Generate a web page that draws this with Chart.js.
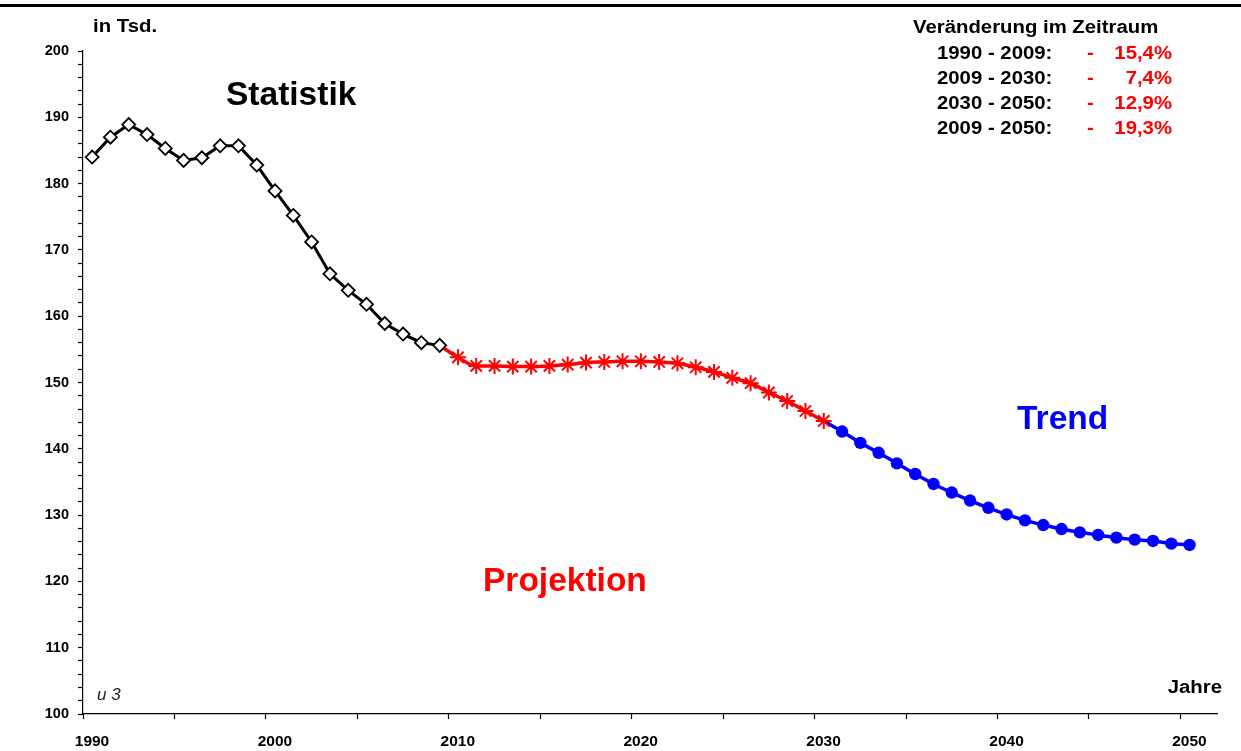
<!DOCTYPE html>
<html>
<head>
<meta charset="utf-8">
<script src="https://cdn.jsdelivr.net/npm/chart.js@4.4.1/dist/chart.umd.min.js"></script>
<style>
  html, body { margin: 0; padding: 0; background: #fff; }
  #wrap { position: relative; width: 1241px; height: 751px; }
  canvas { display: block; }
</style>
</head>
<body>
<div id="wrap"><canvas id="c" width="1241" height="751"></canvas></div>
<script>
// ---- Data ----
const statYears  = [1990,1991,1992,1993,1994,1995,1996,1997,1998,1999,2000,2001,2002,2003,2004,2005,2006,2007,2008,2009];
const statValues = [184.0,187.0,188.9,187.4,185.3,183.5,183.9,185.7,185.7,182.8,178.9,175.2,171.2,166.4,163.9,161.8,158.9,157.3,156.0,155.6];

const projYears  = [2010,2011,2012,2013,2014,2015,2016,2017,2018,2019,2020,2021,2022,2023,2024,2025,2026,2027,2028,2029,2030];
const projValues = [153.8,152.5,152.5,152.4,152.4,152.5,152.7,153.0,153.1,153.2,153.2,153.1,152.9,152.3,151.6,150.7,149.9,148.5,147.2,145.7,144.2];

const trendYears  = [2031,2032,2033,2034,2035,2036,2037,2038,2039,2040,2041,2042,2043,2044,2045,2046,2047,2048,2049,2050];
const trendValues = [142.6,140.9,139.4,137.8,136.2,134.7,133.4,132.2,131.1,130.1,129.2,128.5,127.9,127.4,127.0,126.6,126.3,126.1,125.7,125.5];

const xTickMarks  = [1990,1995,2000,2005,2010,2015,2020,2025,2030,2035,2040,2045,2050];
const xTickLabels = [1990,2000,2010,2020,2030,2040,2050];
const yTickLabels = [100,110,120,130,140,150,160,170,180,190,200];

const changeTitle   = 'Veränderung im Zeitraum';
const changePeriods = ['1990 - 2009:','2009 - 2030:','2030 - 2050:','2009 - 2050:'];
const changeSigns   = ['-','-','-','-'];
const changeValues  = ['15,4%','7,4%','12,9%','19,3%'];

// ---- Build datasets ----
const toPts = (xs, ys) => xs.map((x, i) => ({ x: x, y: ys[i] }));
const lastStat = { x: statYears[statYears.length - 1], y: statValues[statValues.length - 1] };
const lastProj = { x: projYears[projYears.length - 1], y: projValues[projValues.length - 1] };

const statData  = toPts(statYears, statValues);
const projData  = [lastStat].concat(toPts(projYears, projValues));
const trendData = [lastProj].concat(toPts(trendYears, trendValues));

const FONT = "'Liberation Sans', Arial, sans-serif";
const SX = 1.13; // horizontal stretch of the small labels

function wideText(ctx, txt, x, y, align) {
  const w = ctx.measureText(txt).width * SX;
  let left = x;
  if (align === 'right') left = x - w;
  else if (align === 'center') left = x - w / 2;
  ctx.save();
  ctx.translate(left, y);
  ctx.scale(SX, 1);
  ctx.textAlign = 'left';
  ctx.fillText(txt, 0, 0);
  ctx.restore();
}

const textPlugin = {
  id: 'texts',
  afterDraw(chart) {
    const ctx = chart.ctx;
    ctx.save();
    // top rule
    ctx.fillStyle = '#000';
    ctx.fillRect(0, 4, 1241, 3);

    ctx.textBaseline = 'middle';
    ctx.fillStyle = '#000';
    ctx.font = 'bold 18px ' + FONT;
    wideText(ctx, 'in Tsd.', 93, 27, 'left');
    wideText(ctx, 'Jahre', 1222, 688, 'right');

    ctx.textAlign = 'left';
    ctx.font = 'bold 33.5px ' + FONT;
    ctx.fillStyle = '#000';
    ctx.fillText('Statistik', 226, 96);
    ctx.fillStyle = '#FF0000';
    ctx.fillText('Projektion', 483, 582);
    ctx.fillStyle = '#0000FF';
    ctx.fillText('Trend', 1017, 420);

    ctx.font = 'italic 17px ' + FONT;
    ctx.fillStyle = '#222';
    ctx.fillText('u 3', 97, 695);

    // change box
    ctx.font = 'bold 18px ' + FONT;
    ctx.fillStyle = '#000';
    wideText(ctx, changeTitle, 913, 28, 'left');
    for (let i = 0; i < changePeriods.length; i++) {
      const y = 54 + i * 25;
      ctx.fillStyle = '#000';
      wideText(ctx, changePeriods[i], 937, y, 'left');
      ctx.fillStyle = '#FF0000';
      wideText(ctx, changeSigns[i], 1087, y, 'left');
      wideText(ctx, changeValues[i], 1172, y, 'right');
    }
    ctx.restore();
  }
};

new Chart(document.getElementById('c'), {
  type: 'line',
  data: {
    datasets: [
      {
        label: 'Statistik',
        data: statData,
        borderColor: '#000',
        borderWidth: 3,
        tension: 0,
        pointStyle: 'rectRot',
        pointRadius: 6.5,
        pointBackgroundColor: '#fff',
        pointBorderColor: '#000',
        pointBorderWidth: 1.8,
        xAxisID: 'x'
      },
      {
        label: 'Projektion',
        data: projData,
        borderColor: '#FF0000',
        borderWidth: 3.5,
        cubicInterpolationMode: 'monotone',
        pointStyle: 'star',
        pointRadius: ctx => ctx.dataIndex === 0 ? 0 : 8,
        pointBorderColor: '#FF0000',
        pointBackgroundColor: '#FF0000',
        pointBorderWidth: 2,
        xAxisID: 'x'
      },
      {
        label: 'Trend',
        data: trendData,
        borderColor: '#0000FF',
        borderWidth: 3.5,
        cubicInterpolationMode: 'monotone',
        pointStyle: 'circle',
        pointRadius: ctx => ctx.dataIndex === 0 ? 0 : 6.2,
        pointBorderColor: '#0000FF',
        pointBackgroundColor: '#0000FF',
        pointBorderWidth: 0,
        xAxisID: 'x'
      }
    ]
  },
  options: {
    responsive: false,
    animation: false,
    events: [],
    layout: { padding: { top: 51, right: 24, bottom: 0, left: 0 } },
    plugins: { legend: { display: false }, tooltip: { enabled: false } },
    scales: {
      x: {
        type: 'linear',
        display: false,
        min: 1989.5,
        max: 2051.5
      },
      xt: {
        type: 'linear',
        position: 'bottom',
        min: 1990,
        max: 2052,
        afterBuildTicks: s => { s.ticks = xTickMarks.map(v => ({ value: v })); },
        afterFit: s => { s.height = 37; },
        border: { display: true, color: '#000', width: 1.2 },
        grid: {
          drawOnChartArea: false,
          drawTicks: true,
          tickLength: 5,
          tickWidth: 1.2,
          tickColor: '#000'
        },
        ticks: {
          autoSkip: false,
          maxRotation: 0,
          padding: 13,
          labelOffset: 9,
          color: '#000',
          font: { family: FONT, size: 15.5, weight: 'bold' },
          callback: v => xTickLabels.includes(v) ? String(v) : ''
        }
      },
      y: {
        type: 'linear',
        min: 100,
        max: 200,
        afterFit: s => { s.width = 83; },
        border: { display: true, color: '#000', width: 1.2 },
        grid: {
          drawOnChartArea: false,
          drawTicks: true,
          tickLength: 5,
          tickWidth: 1.2,
          tickColor: '#000'
        },
        ticks: {
          stepSize: 2,
          autoSkip: false,
          padding: 9,
          color: '#000',
          font: { family: FONT, size: 14.5, weight: 'bold' },
          callback: v => yTickLabels.includes(Math.round(v)) && Math.abs(v - Math.round(v)) < 1e-6 ? String(Math.round(v)) : ''
        }
      }
    }
  },
  plugins: [textPlugin]
});
</script>
</body>
</html>
